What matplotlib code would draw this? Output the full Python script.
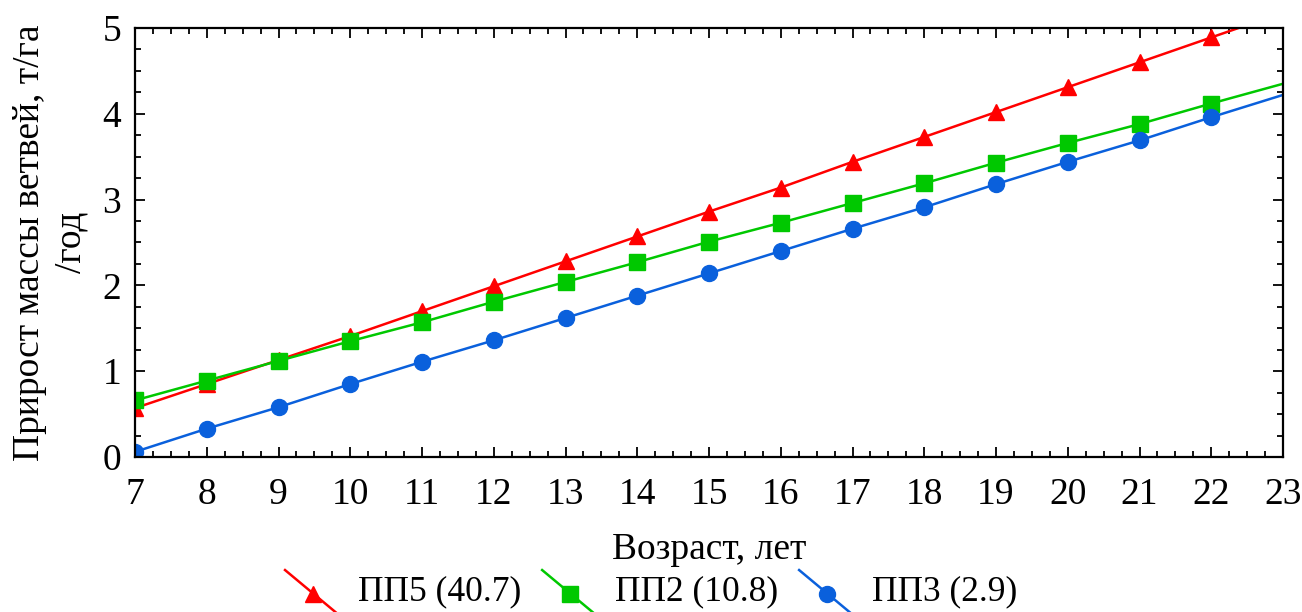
import matplotlib
matplotlib.use("Agg")
import matplotlib.pyplot as plt
from matplotlib.lines import Line2D
from matplotlib.legend_handler import HandlerBase
from matplotlib.ticker import MultipleLocator

plt.rcParams['font.family'] = ['Liberation Serif', 'DejaVu Serif']

ages = [7, 8, 9, 10, 11, 12, 13, 14, 15, 16, 17, 18, 19, 20, 21, 22, 23]
pp5 = [0.57, 0.85, 1.13, 1.41, 1.70, 1.99, 2.28, 2.57, 2.86, 3.14, 3.44, 3.73, 4.02, 4.31, 4.60, 4.89, 5.18]
pp2 = [0.66, 0.89, 1.12, 1.35, 1.57, 1.81, 2.04, 2.27, 2.51, 2.73, 2.96, 3.19, 3.43, 3.66, 3.88, 4.12, 4.35]
pp3 = [0.06, 0.33, 0.58, 0.85, 1.11, 1.36, 1.62, 1.88, 2.14, 2.40, 2.66, 2.91, 3.18, 3.44, 3.69, 3.96, 4.22]
labels = ["ПП5 (40.7)", "ПП2 (10.8)", "ПП3 (2.9)"]
colors = ["#ff0000", "#00c800", "#0a60dc"]
markers = ["^", "s", "o"]
msizes = [12, 11, 11.5]

fig = plt.figure(figsize=(13.02, 6.12), dpi=100)
ax = fig.add_axes([135/1302, 1-457/612, 1148/1302, 429/612])

handles = []
for ys, lab, c, m, ms in zip([pp5, pp2, pp3], labels, colors, markers, msizes):
    h, = ax.plot(ages, ys, color=c, lw=1.8, marker=m, markersize=ms,
                 markevery=list(range(len(ages) - 1)), label=lab)
    handles.append(h)

ax.set_xlim(7, 23)
ax.set_ylim(0, 5)
ax.xaxis.set_major_locator(MultipleLocator(1))
ax.xaxis.set_minor_locator(MultipleLocator(0.25))
ax.yaxis.set_major_locator(MultipleLocator(1))
ax.yaxis.set_minor_locator(MultipleLocator(0.25))
ax.tick_params(which='both', direction='in', top=True, right=True, width=1.3)
ax.tick_params(which='major', length=7, labelsize=27)
ax.tick_params(which='minor', length=4)
ax.tick_params(axis='x', which='major', pad=14.5)
ax.tick_params(axis='y', which='major', pad=10)
for s in ax.spines.values():
    s.set_linewidth(1.6)

ax.set_xlabel("Возраст, лет", fontsize=27, labelpad=15)
ax.set_ylabel("Прирост массы ветвей, т/га\n/год", fontsize=27, labelpad=10, linespacing=1.25)


class DiagHandler(HandlerBase):
    def create_artists(self, legend, orig_handle, xdescent, ydescent, width, height, fontsize, trans):
        x0, x1 = -xdescent, width - xdescent
        yc = height * 0.5 - ydescent - 4
        y0, y1 = yc + 17, yc - 17
        ln = Line2D([x0, x1], [y0, y1], color=orig_handle.get_color(), lw=1.8, transform=trans)
        mk = Line2D([(x0 + x1) / 2], [yc], color=orig_handle.get_color(),
                    marker=orig_handle.get_marker(), markersize=orig_handle.get_markersize(),
                    linestyle='none', transform=trans)
        return [ln, mk]


fig.legend(handles, labels, loc='center', bbox_to_anchor=(0.5, 1-592/612), ncol=3,
           frameon=False, fontsize=25.5, handler_map={Line2D: DiagHandler()},
           handlelength=1.6, handletextpad=0.45, columnspacing=0.6, borderaxespad=0)

fig.savefig("out.png", dpi=100)
